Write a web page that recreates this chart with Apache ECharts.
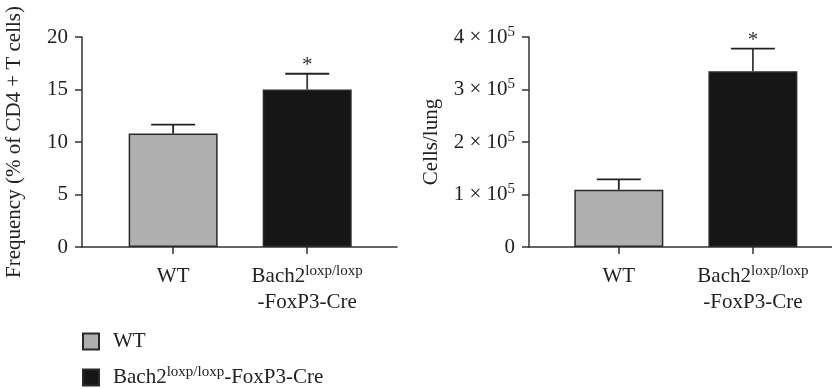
<!DOCTYPE html>
<html><head><meta charset="utf-8">
<script src="https://cdn.jsdelivr.net/npm/echarts@6/dist/echarts.min.js"></script>
<style>html,body{margin:0;padding:0;background:#fff}#c{width:832px;height:389px}</style>
</head><body><div id="c"></div>
<script>
// ---- data ----
const categories = ['WT', 'Bach2-FoxP3-Cre'];
const freqMean = [10.8, 15.0];
const freqErr = [0.85, 1.5];
const cellsMean = [1.09e5, 3.35e5];
const cellsErr = [0.2e5, 0.43e5];
const significance = ['', '*'];
const freqTicks = [0, 5, 10, 15, 20];
const cellsTicks = [0, 1e5, 2e5, 3e5, 4e5];
const barColors = ['#afafaf', '#161616'];

const FONT = '"Liberation Serif", "Times New Roman", serif';
const TXT = '#222';
const rich = {
  b: {fontFamily: FONT, fontSize: 21, color: TXT, lineHeight: 26},
  s: {fontFamily: FONT, fontSize: 15, color: TXT, lineHeight: 26, padding: [0, 0, 10, 0]},
  sp: {width: 9}
};
const legendRich = {
  b: {fontFamily: FONT, fontSize: 21, color: TXT, lineHeight: 24},
  s: {fontFamily: FONT, fontSize: 15, color: TXT, lineHeight: 24, padding: [0, 0, 10, 0]},
  sp: {width: 9}
};
function catLabel(i, legend) {
  if (i === 0) return (legend ? '{sp|}' : '') + '{b|WT}';
  return legend ? '{sp|}{b|Bach2}{s|loxp/loxp}{b|-FoxP3-Cre}' : '{b|Bach2}{s|loxp/loxp}\n{b|-FoxP3-Cre}';
}
const xPos = categories.map((c, i) => i + 1);

function xAxisFor(gi, min, max) {
  return {
    type: 'value', gridIndex: gi, min: min, max: max,
    axisLine: {show: true, lineStyle: {color: '#333', width: 1.5}},
    axisTick: {show: true, customValues: xPos, length: 7, lineStyle: {color: '#333', width: 1.5}},
    axisLabel: {customValues: xPos, margin: 16, formatter: v => catLabel(Math.round(v) - 1, false), rich: rich},
    splitLine: {show: false}
  };
}
function yAxisFor(gi, ticks, fmt, name, gap) {
  return {
    type: 'value', gridIndex: gi, min: ticks[0], max: ticks[ticks.length - 1],
    interval: ticks[1] - ticks[0],
    name: name, nameLocation: 'middle', nameGap: gap, nameRotate: 90,
    nameTextStyle: {fontFamily: FONT, fontSize: 21, color: TXT},
    axisLine: {show: true, lineStyle: {color: '#333', width: 1.5}},
    axisTick: {show: true, length: 7, lineStyle: {color: '#333', width: 1.5}},
    axisLabel: {margin: 14, formatter: fmt, rich: {
      n: {fontFamily: FONT, fontSize: 21, color: TXT},
      e: {fontFamily: FONT, fontSize: 15, color: TXT, padding: [0, 0, 10, 0]},
      b: {fontFamily: FONT, fontSize: 21, color: TXT}
    }},
    splitLine: {show: false}
  };
}
function barSeries(gi, means) {
  return categories.map((c, i) => ({
    type: 'bar', name: c, xAxisIndex: gi, yAxisIndex: gi,
    barWidth: 89, barGap: '-100%',
    itemStyle: {color: barColors[i], borderColor: '#2a2a2a', borderWidth: 1.5},
    data: [[xPos[i], means[i]]],
    z: 2
  }));
}
function errSeries(gi, means, errs) {
  return {
    type: 'custom', xAxisIndex: gi, yAxisIndex: gi, z: 5, silent: true,
    data: categories.map((c, i) => [xPos[i], means[i], means[i] + errs[i], i]),
    renderItem: function (params, api) {
      const x = api.value(0);
      const p0 = api.coord([x, api.value(1)]);
      const p1 = api.coord([x, api.value(2)]);
      const idx = api.value(3);
      const half = 22;
      const st = {stroke: idx === 1 ? '#3a3a3a' : '#222', lineWidth: 1.8};
      const children = [
        {type: 'line', shape: {x1: p0[0], y1: p0[1], x2: p1[0], y2: p1[1]}, style: st},
        {type: 'line', shape: {x1: p1[0] - half, y1: p1[1], x2: p1[0] + half, y2: p1[1]}, style: {stroke: '#222', lineWidth: 1.8}}
      ];
      if (significance[idx]) {
        children.push({type: 'text', style: {text: significance[idx], x: p1[0], y: p1[1] + 2,
          align: 'center', verticalAlign: 'bottom', fontFamily: FONT, fontSize: 21, fill: '#333'}});
      }
      return {type: 'group', children: children};
    }
  };
}
function legendFor(i, top) {
  return {
    left: 82, top: top, padding: 0, itemWidth: 16, itemHeight: 16,
    data: [{name: categories[i], icon: 'rect'}],
    formatter: name => catLabel(categories.indexOf(name), true),
    textStyle: {rich: legendRich},
    selectedMode: false
  };
}

const chart = echarts.init(document.getElementById('c'), null, {renderer: 'canvas'});
chart.setOption({
  animation: false,
  grid: [
    {left: 82, right: 435, top: 37, bottom: 142},
    {left: 529, right: 0, top: 37, bottom: 142}
  ],
  legend: [legendFor(0, 331), legendFor(1, 365)],
  xAxis: [xAxisFor(0, 0.32, 2.67), xAxisFor(1, 0.33, 2.59)],
  yAxis: [
    yAxisFor(0, freqTicks, v => '{b|' + v + '}', 'Frequency (% of CD4 + T cells)', 57),
    yAxisFor(1, cellsTicks, v => v === 0 ? '{b|0}' : '{n|' + (v / 1e5) + ' × 10}{e|5}', 'Cells/lung', 87)
  ],
  series: [].concat(
    barSeries(0, freqMean), [errSeries(0, freqMean, freqErr)],
    barSeries(1, cellsMean), [errSeries(1, cellsMean, cellsErr)]
  )
});
</script></body></html>
